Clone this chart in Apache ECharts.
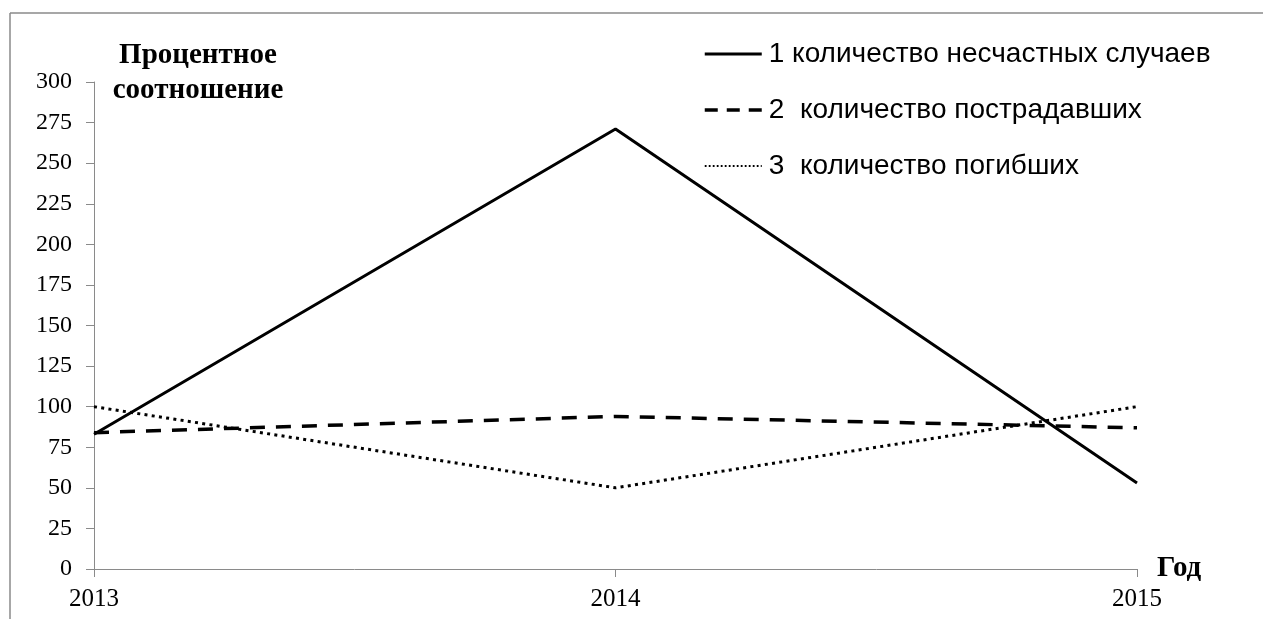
<!DOCTYPE html>
<html>
<head>
<meta charset="utf-8">
<script src="https://cdn.jsdelivr.net/npm/echarts@6/dist/echarts.min.js"></script>
<style>
  html, body { margin: 0; padding: 0; background: #fff; }
  #chart { width: 1263px; height: 619px; }
</style>
</head>
<body>
<div id="chart"></div>
<script>
// Years on the horizontal axis
const years = ['2013', '2014', '2015'];

// Series names (legend captions)
const seriesNames = [
  '1 количество несчастных случаев',
  '2  количество пострадавших',
  '3  количество погибших'
];

// Percentage values per year
const accidents = [83, 271, 53];
const injured = [84, 94, 87];
const killed = [100, 50, 100];

// Y axis range
const yMin = 0;
const yMax = 300;
const yStep = 25;

const serif = '"Liberation Serif", "Times New Roman", serif';
const sans = '"Liberation Sans", Arial, sans-serif';
const axisGray = '#8a8a8a';

const chart = echarts.init(document.getElementById('chart'), null, { renderer: 'canvas' });

chart.setOption({
  animation: false,
  backgroundColor: '#ffffff',
  grid: { left: 94, right: 126, top: 82, bottom: 50, containLabel: false },
  graphic: [
    // outer frame (top and left edges)
    { type: 'line', shape: { x1: 10, y1: 13, x2: 1263, y2: 13 }, style: { stroke: axisGray, lineWidth: 1.5 } },
    { type: 'line', shape: { x1: 10, y1: 13, x2: 10, y2: 619 }, style: { stroke: axisGray, lineWidth: 1.5 } },
    // vertical axis caption
    {
      type: 'text', x: 198, y: 38,
      style: {
        text: 'Процентное\nсоотношение',
        font: 'bold 29px ' + serif,
        fill: '#000',
        textAlign: 'center',
        lineHeight: 35
      }
    }
  ],
  legend: {
    orient: 'vertical',
    left: 703,
    top: 40,
    padding: 0,
    itemWidth: 57,
    itemHeight: 1,
    itemGap: 28,
    itemStyle: { opacity: 0 },
    textStyle: { fontFamily: sans, fontSize: 28, color: '#000', padding: [0, 0, 0, 2] },
    data: [
      { name: seriesNames[0], lineStyle: { type: 'solid', width: 3 } },
      { name: seriesNames[1], lineStyle: { type: [13, 9], width: 3.5 } },
      { name: seriesNames[2], lineStyle: { type: [1.8, 2.2], width: 2.2 } }
    ]
  },
  xAxis: {
    type: 'category',
    data: years,
    boundaryGap: false,
    name: 'Год',
    nameLocation: 'end',
    nameGap: 20,
    nameTextStyle: { fontFamily: serif, fontWeight: 'bold', fontSize: 29, color: '#000' },
    axisLine: { lineStyle: { color: axisGray, width: 1 } },
    axisTick: { show: true, length: 8, inside: false, lineStyle: { color: axisGray } },
    axisLabel: { fontFamily: serif, fontSize: 25, color: '#000', margin: 18 },
    splitLine: { show: false }
  },
  yAxis: {
    type: 'value',
    min: yMin,
    max: yMax,
    interval: yStep,
    axisLine: { show: true, lineStyle: { color: axisGray, width: 1 } },
    axisTick: { show: true, length: 8, lineStyle: { color: axisGray } },
    axisLabel: { fontFamily: serif, fontSize: 24, color: '#000', margin: 22 },
    splitLine: { show: false }
  },
  series: [
    {
      name: seriesNames[0], type: 'line', data: accidents,
      symbol: 'none',
      lineStyle: { color: '#000', width: 3, type: 'solid' },
      itemStyle: { color: '#000' }
    },
    {
      name: seriesNames[1], type: 'line', data: injured,
      symbol: 'none',
      lineStyle: { color: '#000', width: 3.5, type: [15, 11] },
      itemStyle: { color: '#000' }
    },
    {
      name: seriesNames[2], type: 'line', data: killed,
      symbol: 'none',
      lineStyle: { color: '#000', width: 3, type: [3, 4.3] },
      itemStyle: { color: '#000' }
    }
  ]
});
</script>
</body>
</html>
